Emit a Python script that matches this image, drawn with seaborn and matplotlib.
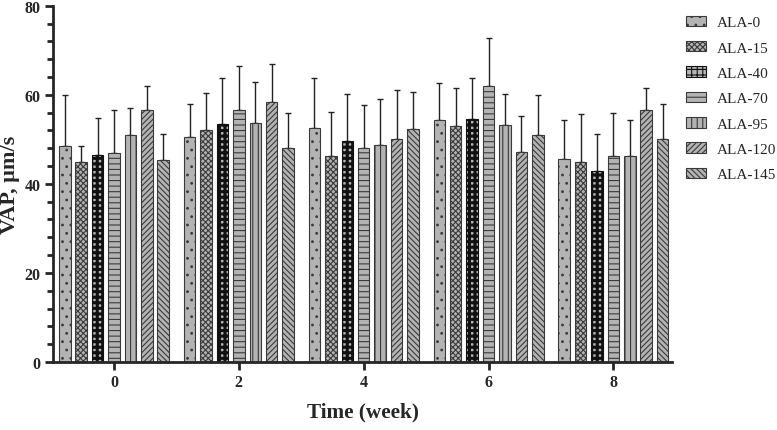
import seaborn as sns
import numpy as np
import pandas as pd
import matplotlib.pyplot as plt
from matplotlib.ticker import MultipleLocator

weeks = ["0", "2", "4", "6", "8"]
groups = ["ALA-0", "ALA-15", "ALA-40", "ALA-70", "ALA-95", "ALA-120", "ALA-145"]

# mean VAP per group, one value per week
vap = {
    "ALA-0":   [48.5, 50.5, 52.6, 54.4, 45.6],
    "ALA-15":  [45.0, 52.0, 46.2, 53.0, 44.9],
    "ALA-40":  [46.5, 53.5, 49.7, 54.6, 43.0],
    "ALA-70":  [47.0, 56.5, 48.0, 62.0, 46.2],
    "ALA-95":  [51.0, 53.7, 48.7, 53.2, 46.2],
    "ALA-120": [56.5, 58.3, 50.1, 47.1, 56.5],
    "ALA-145": [45.3, 48.0, 52.3, 51.1, 50.0],
}
# standard deviation (upper error bar)
sd = {
    "ALA-0":   [11.5, 7.5, 11.2, 8.3, 8.7],
    "ALA-15":  [3.5, 8.5, 10.0, 8.5, 10.9],
    "ALA-40":  [8.2, 10.2, 10.6, 9.1, 8.2],
    "ALA-70":  [9.5, 10.0, 9.8, 10.8, 9.8],
    "ALA-95":  [6.0, 9.1, 10.4, 7.0, 8.2],
    "ALA-120": [5.5, 8.7, 10.9, 8.2, 5.1],
    "ALA-145": [5.9, 8.0, 8.3, 8.8, 8.0],
}
hatches = ["..", "xxxxxx", "+++", "---", "|||", "//////", "\\\\\\\\\\\\"]
hatch_lw = [0.8, 0.8, 2.2, 0.8, 0.8, 0.8, 0.8]

rows = []
for g in groups:
    for w, v in zip(weeks, vap[g]):
        rows.append({"week": w, "group": g, "vap": v})
df = pd.DataFrame(rows)

sns.set_style("ticks")
plt.rcParams["font.family"] = ["Liberation Serif", "DejaVu Serif"]
plt.rcParams["hatch.linewidth"] = 0.8

fig = plt.figure(figsize=(7.77, 4.31), dpi=100)
ax = fig.add_axes([0.068, 0.158, 0.797, 0.826])

sns.barplot(data=df, x="week", y="vap", hue="group", order=weeks, hue_order=groups,
            width=0.92, gap=0.3, palette=["#b3b3b3"] * 7,
            edgecolor="#3a3a3a", linewidth=0.8, ax=ax, legend=False)

bar_conts = list(ax.containers)
for cont, g, h, hl in zip(bar_conts, groups, hatches, hatch_lw):
    xs, ys = [], []
    for p in cont.patches:
        p.set_hatch(h)
        p.set_edgecolor("#3a3a3a" if hl < 1 else "#111111")
        if hasattr(p, "set_hatch_linewidth"):
            p.set_hatch_linewidth(hl)
        xs.append(p.get_x() + p.get_width() / 2)
        ys.append(p.get_height())
    err = np.array(sd[g])
    ax.errorbar(xs, ys, yerr=[np.zeros_like(err), err], fmt="none",
                ecolor="#222222", elinewidth=1, capsize=2.5, capthick=1, zorder=0)

handles = [c.patches[0] for c in bar_conts]
ax.legend(handles, groups, loc="upper left", bbox_to_anchor=(1.012, 0.99),
          borderaxespad=0, frameon=False, fontsize=11, handlelength=1.35,
          handleheight=0.68, labelspacing=0.77, handletextpad=0.7)

ax.set_ylim(0, 80)
ax.set_xlim(-0.49, 4.47)
ax.yaxis.set_major_locator(MultipleLocator(20))
ax.yaxis.set_minor_locator(MultipleLocator(4))
ax.tick_params(axis="both", which="major", width=2, length=6, labelsize=11.5, pad=3)
ax.tick_params(axis="y", which="minor", width=2, length=4)
for lab in ax.get_xticklabels() + ax.get_yticklabels():
    lab.set_fontweight("bold")

ax.set_ylabel("VAP, μm/s", fontsize=16, fontweight="bold", labelpad=3)
ax.set_xlabel("Time (week)", fontsize=15.3, fontweight="bold", labelpad=8)
for s in ["left", "bottom"]:
    ax.spines[s].set_linewidth(2)
sns.despine(ax=ax)

fig.savefig("out.png", dpi=100)
